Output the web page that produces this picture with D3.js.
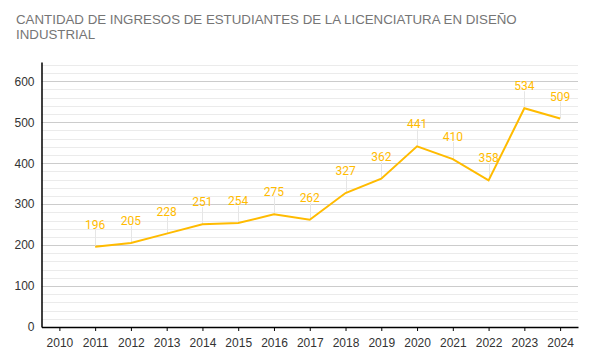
<!DOCTYPE html>
<html>
<head>
<meta charset="utf-8">
<script src="https://cdn.jsdelivr.net/npm/d3@7"></script>
<style>
  body { margin: 0; background: #fff; }
  svg { display: block; }
</style>
</head>
<body>
<svg id="chart" width="593" height="362"></svg>
<script>
var years = ["2010", "2011", "2012", "2013", "2014", "2015", "2016", "2017",
  "2018", "2019", "2020", "2021", "2022", "2023", "2024"];
// 2010 has no value
var ingresos = [null, 196, 205, 228, 251, 254, 275, 262, 327, 362, 441, 410, 358, 534, 509];
var yTicks = [0, 100, 200, 300, 400, 500, 600];

var svg = d3.select("#chart");
// note: "top" is taken by window.top, so use other names
var plotLeft = 41.5, plotRight = 578, plotTop = 62, plotBottom = 327;

var x = d3.scalePoint().domain(years).range([plotLeft, plotRight]).padding(0.5);
var y = d3.scaleLinear().domain([0, 647]).range([plotBottom, plotTop]);

// title
svg.append("text")
  .attr("x", 16).attr("y", 24)
  .attr("font-family", "Arial, 'Liberation Sans', sans-serif")
  .attr("font-size", "13.3px")
  .attr("fill", "#757575")
  .text("CANTIDAD DE INGRESOS DE ESTUDIANTES DE LA LICENCIATURA EN DISEÑO");
svg.append("text")
  .attr("x", 16).attr("y", 39)
  .attr("font-family", "Arial, 'Liberation Sans', sans-serif")
  .attr("font-size", "13.3px")
  .attr("fill", "#757575")
  .text("INDUSTRIAL");

// minor grid every 20
var minor = d3.range(20, 647, 20).filter(function(v) { return v % 100 !== 0; });
svg.append("g").selectAll("line")
  .data(minor)
  .enter().append("line")
  .attr("x1", plotLeft).attr("x2", plotRight)
  .attr("y1", function(d) { return Math.round(y(d)) + 0.5; })
  .attr("y2", function(d) { return Math.round(y(d)) + 0.5; })
  .attr("stroke", "#ebebeb");

// major grid
svg.append("g").selectAll("line")
  .data(yTicks.slice(1))
  .enter().append("line")
  .attr("x1", plotLeft).attr("x2", plotRight)
  .attr("y1", function(d) { return Math.round(y(d)) + 0.5; })
  .attr("y2", function(d) { return Math.round(y(d)) + 0.5; })
  .attr("stroke", "#cccccc");

// y axis
var yAxis = svg.append("g")
  .attr("transform", "translate(" + plotLeft + ",0)")
  .call(d3.axisLeft(y).tickValues(yTicks).tickSize(0).tickPadding(7));
yAxis.select(".domain").attr("stroke", "#000").attr("stroke-width", 1.5);
yAxis.selectAll("text")
  .attr("font-family", "Arial, 'Liberation Sans', sans-serif")
  .attr("font-size", "12px")
  .attr("fill", "#333");

// x axis
var xAxis = svg.append("g")
  .attr("transform", "translate(0," + plotBottom + ")")
  .call(d3.axisBottom(x).tickSize(4).tickSizeOuter(0).tickPadding(7));
xAxis.select(".domain").attr("stroke", "#000").attr("stroke-width", 1.5);
xAxis.selectAll(".tick line").attr("stroke", "#000");
xAxis.selectAll("text")
  .attr("font-family", "Arial, 'Liberation Sans', sans-serif")
  .attr("font-size", "12px")
  .attr("fill", "#333");

var pts = years.map(function(yr, i) { return { year: yr, v: ingresos[i] }; })
  .filter(function(d) { return d.v !== null; });

// leader lines
svg.append("g").selectAll("line")
  .data(pts)
  .enter().append("line")
  .attr("x1", function(d) { return Math.round(x(d.year)) + 0.5; })
  .attr("x2", function(d) { return Math.round(x(d.year)) + 0.5; })
  .attr("y1", function(d) { return y(d.v); })
  .attr("y2", function(d) { return y(d.v) - 17; })
  .attr("stroke", "#e6e6e6");

// line
svg.append("path")
  .datum(pts)
  .attr("fill", "none")
  .attr("stroke", "#FFBB00")
  .attr("stroke-width", 2)
  .attr("d", d3.line()
    .x(function(d) { return x(d.year); })
    .y(function(d) { return y(d.v); }));

// value labels
svg.append("g").selectAll("text")
  .data(pts)
  .enter().append("text")
  .attr("x", function(d) { return x(d.year); })
  .attr("y", function(d) { return y(d.v) - 18; })
  .attr("text-anchor", "middle")
  .attr("font-family", "Roboto, sans-serif")
  .attr("font-size", "12px")
  .attr("fill", "#FFBB00")
  .text(function(d) { return d.v; });
</script>
</body>
</html>
